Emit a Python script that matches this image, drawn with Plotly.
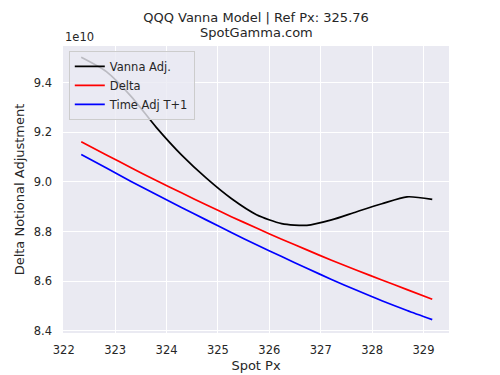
import plotly.graph_objects as go

# Spot prices (x) and delta notional adjustments (in units of 1e10)
spot_px = [322.34, 322.83, 323.31, 323.80, 324.29, 324.78, 325.26, 325.75,
           326.24, 326.73, 327.21, 327.70, 328.19, 328.68, 329.17]
vanna_adj = [9.503, 9.445, 9.345, 9.220, 9.109, 9.014, 8.933, 8.868,
             8.832, 8.825, 8.847, 8.880, 8.912, 8.940, 8.930]
delta = [9.162, 9.109, 9.057, 9.006, 8.956, 8.907, 8.860, 8.814,
         8.769, 8.726, 8.684, 8.644, 8.605, 8.566, 8.527]
time_adj = [9.111, 9.056, 9.002, 8.949, 8.897, 8.846, 8.796, 8.747,
            8.699, 8.652, 8.607, 8.563, 8.521, 8.482, 8.445]

x_ticks = [322, 323, 324, 325, 326, 327, 328, 329]
y_ticks = [8.4, 8.6, 8.8, 9.0, 9.2, 9.4]
y_tick_labels = ["8.4", "8.6", "8.8", "9.0", "9.2", "9.4"]

FONT = "DejaVu Sans"
TXT = "#262626"

fig = go.Figure()
for name, vals, col in [("Vanna Adj.", vanna_adj, "black"),
                        ("Delta", delta, "red"),
                        ("Time Adj T+1", time_adj, "blue")]:
    fig.add_trace(go.Scatter(x=spot_px, y=vals, mode="lines", name=name,
                             line=dict(color=col, width=1.7, shape="spline", smoothing=0.7)))

# page is offset by the 8px body margin, so layout is shifted by -8px
fig.update_layout(
    width=500, height=375,
    margin=dict(l=55, r=59, t=38, b=50, autoexpand=False),
    paper_bgcolor="white", plot_bgcolor="#EAEAF2",
    font=dict(family=FONT, size=12, color=TXT),
    title=dict(text="QQQ Vanna Model | Ref Px: 325.76",
               x=0.5, xref="paper", xanchor="center",
               y=1 - 9 / 375, yref="container", yanchor="middle",
               font=dict(family=FONT, size=13, color=TXT)),
    showlegend=True,
    legend=dict(x=0.015, y=0.983, xanchor="left", yanchor="top",
                bgcolor="rgba(234,234,242,0.8)", bordercolor="#cccccc", borderwidth=1,
                font=dict(family=FONT, size=11.5, color=TXT), itemwidth=30),
    xaxis=dict(range=[321.985, 329.496], tickvals=x_ticks, showgrid=True,
               gridcolor="white", gridwidth=1.3, zeroline=False, showline=False,
               ticks="", tickfont=dict(size=11.5), automargin=False,
               ticklabelstandoff=8,
               title=dict(text="Spot Px", font=dict(size=13), standoff=5)),
    yaxis=dict(range=[8.391, 9.548], tickvals=y_ticks, ticktext=y_tick_labels,
               showgrid=True, gridcolor="white", gridwidth=1.3, zeroline=False,
               showline=False, ticks="", tickfont=dict(size=11.5), automargin=False,
               ticklabelstandoff=10,
               title=dict(text="Delta Notional Adjustment", font=dict(size=13), standoff=6)),
    annotations=[
        dict(text="SpotGamma.com", xref="paper", yref="paper", x=0.5, y=(325 - 25) / 287,
             xanchor="center", yanchor="middle", showarrow=False,
             font=dict(family=FONT, size=13, color=TXT)),
        dict(text="1e10", xref="paper", yref="paper", x=0, y=(325 - 29) / 287,
             xanchor="left", yanchor="middle", showarrow=False,
             font=dict(family=FONT, size=11.5, color=TXT)),
    ],
)

fig.write_html("out.html")
